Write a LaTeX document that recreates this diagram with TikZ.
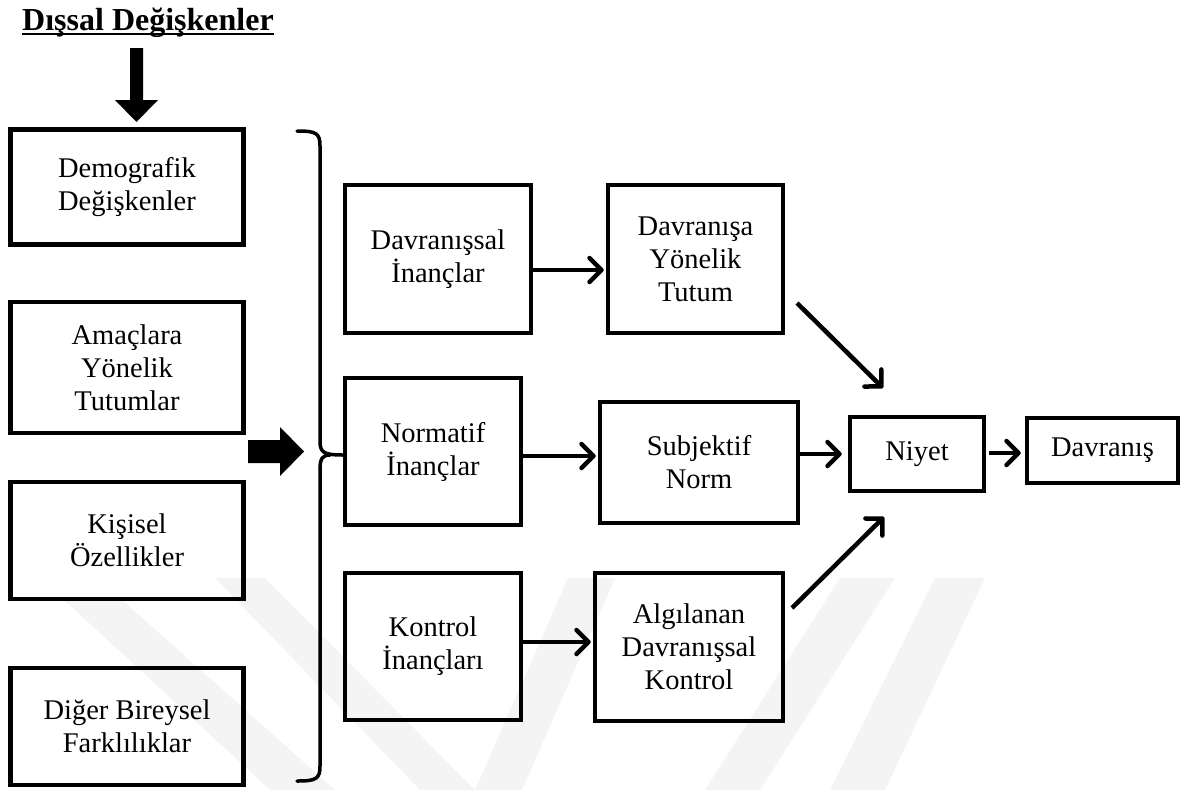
\documentclass[tikz,border=0pt]{standalone}
\usepackage{fontspec}
\setmainfont{Liberation Serif}
\usetikzlibrary{arrows.meta}
\definecolor{wm}{gray}{0.955}
\tikzset{
  box/.style={draw, line width=4.5pt, align=center, inner sep=0pt,
    font=\fontsize{28.5}{33}\selectfont},
  conn/.style={line width=4.5pt, -{Straight Barb[length=12pt,width=24pt,round]}},
  bigarrow/.style={fill=black, draw=none},
  bracket/.style={line width=3.5pt, line cap=round, line join=round},
  band/.style={fill=wm, draw=none}
}
\begin{document}
\begin{tikzpicture}[x=1pt,y=-1pt]
\useasboundingbox (0,0) rectangle (1182,790);

% faint background emblem
\fill[band] (62,598) -- (120,598) -- (335,790) -- (270,790) -- cycle;
\fill[band] (215,578) -- (265,578) -- (475,790) -- (420,790) -- cycle;
\fill[band] (568,578) -- (615,578) -- (522,790) -- (475,790) -- cycle;
\fill[band] (840,578) -- (895,578) -- (760,790) -- (705,790) -- cycle;
\fill[band] (935,578) -- (985,578) -- (885,790) -- (830,790) -- cycle;

% heading
\node[anchor=base, inner sep=0pt, font=\fontsize{32}{38}\selectfont\bfseries]
  (title) at (148,30) {Dışsal Değişkenler};
\draw[line width=2pt] ([yshift=-4.3pt]title.base west) -- ([yshift=-4.3pt]title.base east);

% external variables
\node[box, minimum width=233pt, minimum height=115pt] (demo) at (127,187) {Demografik\\Değişkenler};
\node[box, minimum width=233pt, minimum height=131pt] (amac) at (127,367.5) {Amaçlara\\Yönelik\\Tutumlar};
\node[box, minimum width=233pt, minimum height=117pt] (kisi) at (127,540.5) {Kişisel\\Özellikler};
\node[box, minimum width=233pt, minimum height=117pt] (diger) at (127,726.5) {Diğer Bireysel\\Farklılıklar};

% block arrows
\fill[bigarrow] (130,48) -- (143,48) -- (143,100) -- (158,100) -- (136.5,122)
  -- (115,100) -- (130,100) -- cycle;
\fill[bigarrow] (248,440) -- (280,440) -- (280,427) -- (304,451.5) -- (280,476)
  -- (280,463) -- (248,463) -- cycle;

% beliefs
\node[box, minimum width=186pt, minimum height=148pt] (davinanc) at (438,259) {Davranışsal\\İnançlar};
\node[box, minimum width=176pt, minimum height=147pt] (norminanc) at (433,451.5) {Normatif\\İnançlar};
\node[box, minimum width=176pt, minimum height=147pt] (kontinanc) at (433,646.5) {Kontrol\\İnançları};

% curly bracket
\draw[bracket] (297,131) .. controls (316,131) and (320,133) .. (320,146)
  -- (320,441) .. controls (320,452) and (323,455) .. (norminanc.west |- 0,455);
\draw[bracket] (320,469) .. controls (320,458) and (323,455) .. (330,455);
\draw[bracket] (320,469) -- (320,766) .. controls (320,779) and (316,781) .. (297,781);

% attitude, norm, control
\node[box, minimum width=175pt, minimum height=148pt] (tutum) at (695.5,259) {Davranışa\\Yönelik\\Tutum};
\node[box, minimum width=198pt, minimum height=121pt] (norm) at (699,462.5) {Subjektif\\Norm};
\node[box, minimum width=188pt, minimum height=148pt] (algi) at (689,647) {Algılanan\\Davranışsal\\Kontrol};

\node[box, minimum width=134pt, minimum height=74pt] (niyet) at (917,454) {Niyet};
\node[box, minimum width=151pt, minimum height=65pt, text depth=6pt] (davranis) at (1102.5,450.5) {Davranış};

% connector levels and free ends
\coordinate (r1) at (0,270);
\coordinate (r2) at (0,456);
\coordinate (r3) at (0,642);
\coordinate (r4) at (0,454);
\coordinate (r5) at (0,453);
\coordinate (t1) at (797,303);
\coordinate (t2) at (883,388);
\coordinate (a1) at (792,608);
\coordinate (a2) at (884,517);

\draw[conn] (davinanc.east |- r1) -- ([xshift=-2pt]tutum.west |- r1);
\draw[conn] (norminanc.east |- r2) -- ([xshift=-2pt]norm.west |- r2);
\draw[conn] (kontinanc.east |- r3) -- ([xshift=-2pt]algi.west |- r3);
\draw[conn] (norm.east |- r4) -- ([xshift=-6pt]niyet.west |- r4);
\draw[conn] ([xshift=3pt]niyet.east |- r5) -- ([xshift=-4pt]davranis.west |- r5);
\draw[conn] (t1) -- (t2);
\draw[conn] (a1) -- (a2);
\end{tikzpicture}
\end{document}
